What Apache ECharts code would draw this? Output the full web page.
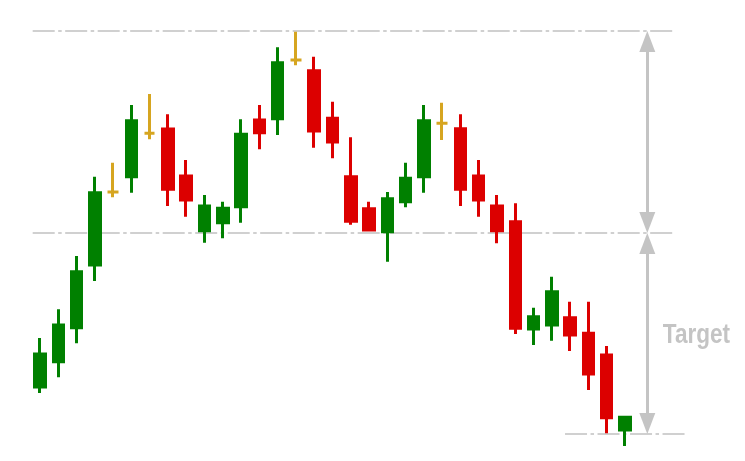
<!DOCTYPE html>
<html>
<head>
<meta charset="utf-8">
<script src="https://cdn.jsdelivr.net/npm/echarts@6/dist/echarts.min.js"></script>
<style>
html,body{margin:0;padding:0;background:#fff;}
#chart{width:745px;height:461px;}
</style>
</head>
<body>
<div id="chart"></div>
<script>
// ---- data (price units) ----
const categories = ['1','2','3','4','5','6','7','8','9','10','11','12','13','14','15','16','17','18','19','20','21','22','23','24','25','26','27','28','29','30','31','32','33','','','',''];
const opens  = [63, 88.3, 122.3, 185, 258, 273.3, 316.7, 321, 274, 219.3, 227.3, 243.3, 330, 331.3, 390, 379.3, 331.7, 273.3, 241.3, 218.3, 248.3, 273.3, 326.7, 321.3, 274, 244, 228.3, 121, 125, 132.3, 116.7, 95, 20];
const closes = [96, 125, 178.3, 257.3, 258, 329.3, 316.7, 260.7, 250, 244, 241.7, 315.7, 317.3, 387.3, 390, 319, 308, 228.7, 220, 251.3, 271.7, 329.3, 326.7, 260.7, 250, 219.3, 121.7, 133.3, 158.3, 115, 76, 32.3, 32.7];
const lows   = [57, 72.7, 106.7, 169, 252.7, 257.3, 310.7, 244, 233.3, 207.3, 211.7, 227.3, 300.7, 315, 384.7, 302.3, 291.7, 225.3, 219, 188.3, 242.7, 257.3, 310, 244, 233.3, 206.7, 116, 105, 109.3, 99, 60, 16.7, 4];
const highs  = [112, 140.7, 194, 273.3, 287.3, 345, 356, 335.7, 290, 255, 248.3, 330.7, 345, 402.7, 418.3, 393.3, 348.3, 312.7, 248.3, 258, 287.3, 345, 347.3, 335.7, 290, 255, 246.7, 142.3, 173.3, 148.3, 148.3, 104, 32.7];

const levelNames  = ['Top', 'Neckline', 'Target level'];
const levelPrices = [419, 217, 16];
const levelStart  = [-0.4, -0.4, 28.72];
const levelEnd    = [34.63, 34.63, 35.28];

const arrowX = 33.22;
const arrowHead = 10.5; // half arrow-head length, price units
const targetLabel = 'Target';
const targetLabelPos = [35.91, 115];

// ---- styles ----
const UP = '#008000', DOWN = '#dc0000', DOJI = '#d6a520';
const GREY = '#c4c4c4', LINEGREY = '#d0d0d0';

const candleData = opens.map((o, i) => {
  const item = { value: [o, closes[i], lows[i], highs[i]] };
  if (o === closes[i]) {
    item.itemStyle = { color: DOJI, color0: DOJI, borderColor: DOJI, borderColor0: DOJI, borderColorDoji: DOJI };
  }
  return item;
});

const levelSeries = levelPrices.map((p, i) => ({
  name: levelNames[i],
  type: 'line',
  xAxisIndex: 1,
  yAxisIndex: 0,
  data: [[levelStart[i], p], [levelEnd[i], p]],
  symbol: 'none',
  silent: true,
  z: 1,
  lineStyle: { color: LINEGREY, width: 2, type: [22, 3.5, 3.5, 3.5] }
}));

// arrows between levels
levelSeries[0].markLine = {
  silent: true,
  symbol: ['triangle', 'triangle'],
  symbolSize: [16, 21],
  label: { show: false },
  lineStyle: { color: GREY, width: 3, type: 'solid' },
  data: [
    [{ coord: [arrowX, levelPrices[0] - arrowHead] }, { coord: [arrowX, levelPrices[1] + arrowHead] }],
    [{ coord: [arrowX, levelPrices[1] - arrowHead] }, { coord: [arrowX, levelPrices[2] + arrowHead] }]
  ]
};

const chart = echarts.init(document.getElementById('chart'), null, { renderer: 'canvas' });
chart.setOption({
  animation: false,
  backgroundColor: '#ffffff',
  grid: { left: 30.86, right: 37.74, top: 10, bottom: 10 },
  xAxis: [
    { type: 'category', data: categories, show: false, boundaryGap: true },
    { type: 'value', min: -0.5, max: 36.5, show: false }
  ],
  yAxis: [{ type: 'value', min: -1, max: 440, show: false, splitLine: { show: false } }],
  series: [
    ...levelSeries,
    {
      name: 'Price',
      type: 'candlestick',
      xAxisIndex: 0,
      yAxisIndex: 0,
      barWidth: 11,
      z: 3,
      itemStyle: { color: UP, color0: DOWN, borderColor: UP, borderColor0: DOWN, borderColorDoji: DOJI, borderWidth: 3 },
      data: candleData
    }
  ]
});

// "Target" caption, placed through the chart's own scales (condensed horizontally)
const lp = chart.convertToPixel({ xAxisIndex: 1, yAxisIndex: 0 }, targetLabelPos);
chart.setOption({
  graphic: [{
    type: 'text',
    x: lp[0],
    y: lp[1],
    scaleX: 0.806,
    silent: true,
    z: 10,
    style: {
      text: targetLabel,
      fill: GREY,
      font: 'bold 28px "Liberation Sans", Arial, sans-serif',
      align: 'center',
      verticalAlign: 'middle'
    }
  }]
});
</script>
</body>
</html>
